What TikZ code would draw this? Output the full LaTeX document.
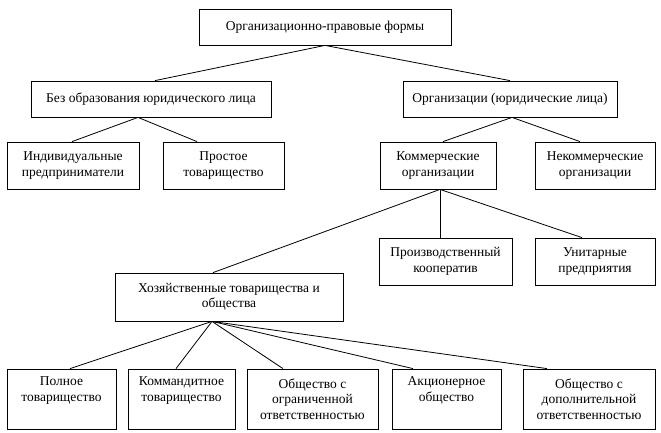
\documentclass[tikz,border=0pt]{standalone}
\usepackage{fontspec}
\setmainfont{Liberation Serif}
\begin{document}
\begin{tikzpicture}[x=1pt,y=-1pt,
  box/.style={draw=black,line width=0.8pt,rectangle,inner sep=0pt,align=center,
    font=\fontsize{13.5}{15.5}\selectfont,fill=white},
  conn/.style={draw=black,line width=0.8pt}]
\useasboundingbox (0,0) rectangle (661,433);
\node[box,minimum width=252pt,minimum height=36pt] (top) at (325,27) {Организационно-правовые формы};
\node[box,minimum width=240pt,minimum height=36pt] (bez) at (151,99) {Без образования юридического лица};
\node[box,minimum width=214pt,minimum height=36pt] (org) at (510,99) {Организации (юридические лица)};
\node[box,minimum width=132pt,minimum height=47pt] (ind) at (73,165.5) {Индивидуальные\\предприниматели};
\node[box,minimum width=121pt,minimum height=47pt] (prost) at (223.5,165.5) {Простое\\товарищество};
\node[box,minimum width=116pt,minimum height=47pt] (kom) at (438,165.5) {Коммерческие\\организации};
\node[box,minimum width=120pt,minimum height=47pt] (nekom) at (595,165.5) {Некоммерческие\\организации};
\node[box,minimum width=133pt,minimum height=47pt] (proizv) at (445.5,261.5) {Производственный\\кооператив};
\node[box,minimum width=120pt,minimum height=47pt] (unit) at (595,261.5) {Унитарные\\предприятия};
\node[box,minimum width=228pt,minimum height=48pt] (hoz) at (229,297) {Хозяйственные товарищества и\\общества};
\node[box,minimum width=109pt,minimum height=60pt] (poln) at (61.5,399) {Полное\\товарищество\\\strut};
\node[box,minimum width=107pt,minimum height=60pt] (kommand) at (181.5,399) {Коммандитное\\товарищество\\\strut};
\node[box,minimum width=131pt,minimum height=60pt] (ooo) at (312.5,399) {Общество с\\ограниченной\\ответственностью};
\node[box,minimum width=109pt,minimum height=60pt] (ao) at (446.5,399) {Акционерное\\общество\\\strut};
\node[box,minimum width=132pt,minimum height=60pt] (odo) at (589,399) {Общество с\\дополнительной\\ответственностью};
\draw[conn] (top.south) -- ([xshift=4pt]bez.north);
\draw[conn] (top.south) -- (org.north);
\draw[conn] ([xshift=-13pt]bez.south) -- ([xshift=-1pt]ind.north);
\draw[conn] ([xshift=-13pt]bez.south) -- ([xshift=-26.5pt]prost.north);
\draw[conn] ([xshift=2pt]org.south) -- ([xshift=5pt]kom.north);
\draw[conn] ([xshift=2pt]org.south) -- ([xshift=-15pt]nekom.north);
\draw[conn] ([xshift=2pt]kom.south) -- ([xshift=-16pt]hoz.north);
\draw[conn] ([xshift=2pt]kom.south) -- ([xshift=-5.5pt]proizv.north);
\draw[conn] ([xshift=2pt]kom.south) -- ([xshift=-13pt]unit.north);
\draw[conn] ([xshift=-17pt]hoz.south) -- ([xshift=8.5pt]poln.north);
\draw[conn] ([xshift=-17pt]hoz.south) -- ([xshift=-5.5pt]kommand.north);
\draw[conn] ([xshift=-17pt]hoz.south) -- ([xshift=-29.5pt]ooo.north);
\draw[conn] ([xshift=-17pt]hoz.south) -- ([xshift=-33.5pt]ao.north);
\draw[conn] ([xshift=-17pt]hoz.south) -- ([xshift=-42pt]odo.north);
\end{tikzpicture}
\end{document}
